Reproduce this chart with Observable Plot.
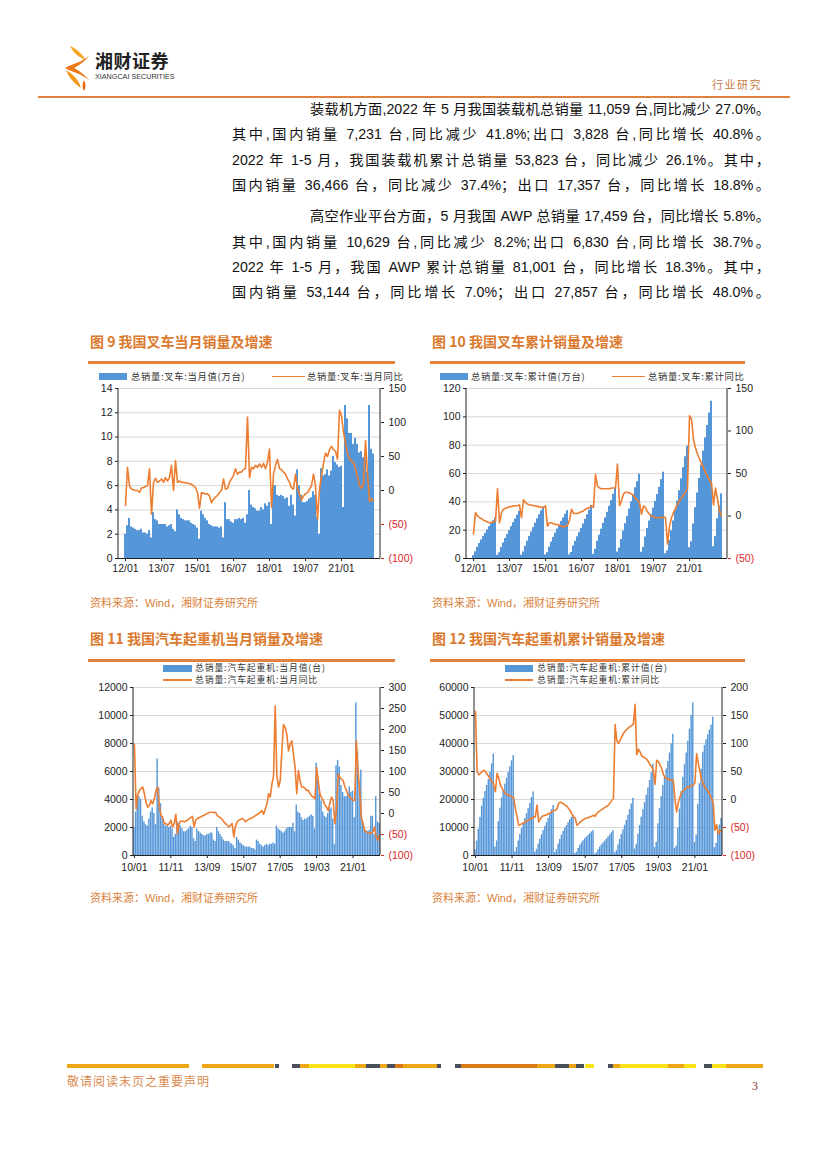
<!DOCTYPE html>
<html><head><meta charset="utf-8">
<script src="https://cdn.jsdelivr.net/npm/d3@7"></script>
<script src="https://cdn.jsdelivr.net/npm/@observablehq/plot@0.6"></script>
<style>
body{margin:0;background:#fff;}
#page{position:relative;width:827px;height:1169px;overflow:hidden;background:#fff;font-family:"Liberation Sans","Noto Sans CJK SC",sans-serif;color:#111;}
.abs{position:absolute;white-space:nowrap;}
.bl{position:absolute;font-size:14.2px;line-height:18px;height:18px;text-align:justify;text-align-last:justify;white-space:nowrap;color:#111;}
.title{position:absolute;font-family:"Noto Sans CJK SC",sans-serif;font-weight:700;font-size:14px;color:#DB7A2E;line-height:18px;white-space:nowrap;}
.rule{position:absolute;height:2.5px;background:#E4823A;}
.src{position:absolute;font-size:11px;color:#D9823A;line-height:14px;white-space:nowrap;font-family:"Liberation Sans","Noto Sans CJK SC",sans-serif;}
.leg{position:absolute;font-family:"Noto Sans CJK SC",sans-serif;font-size:9.3px;letter-spacing:0.7px;color:#333;line-height:11px;white-space:nowrap;}
.leg2{position:absolute;font-family:"Noto Sans CJK SC",sans-serif;font-size:8.8px;letter-spacing:0.9px;color:#333;line-height:10px;height:10px;white-space:nowrap;}
.sw{position:absolute;height:7px;background:#5596d8;}
.ln{position:absolute;height:1.8px;background:#ED7D31;}
.chart{position:absolute;}
</style></head>
<body><div id="page"></div>
<script>
// ---------- categories ----------
function monthSeq(y0, m0, n){const out=[];let y=y0,m=m0;for(let i=0;i<n;i++){out.push(`${y}-${String(m).padStart(2,"0")}`);m++;if(m>12){m=1;y++;}}return out;}
const forkliftMonths = monthSeq(2012, 1, 125);   // 2012/01 - 2022/05
const craneMonths = monthSeq(2010, 1, 149);      // 2010/01 - 2022/05

// ---------- 图9 叉车当月 ----------
const forkliftMonthly = [
2.0,2.7,3.3,2.6,2.5,2.4,2.3,2.3,2.4,2.1,2.1,2.0,
2.3,1.7,3.8,3.2,3.1,2.8,2.8,2.8,2.8,2.6,2.7,2.8,
2.4,2.2,4.0,3.6,3.3,3.2,3.1,3.1,3.1,2.9,2.8,2.7,
2.5,1.6,3.9,3.6,3.3,3.1,2.8,2.7,2.6,2.6,2.6,2.5,
2.6,1.7,4.6,3.2,3.2,3.0,2.9,3.2,3.2,3.3,3.2,3.3,
2.9,3.6,5.6,4.4,4.2,4.1,3.9,3.9,4.2,4.0,4.5,4.3,
4.6,2.8,6.0,6.0,5.2,5.1,5.2,5.1,4.9,5.0,4.3,5.2,
4.4,3.5,7.3,6.0,5.2,4.6,4.6,4.7,4.9,5.0,5.5,5.2,
3.4,2.0,7.4,6.8,6.9,7.3,6.8,7.2,8.4,7.9,7.7,7.5,
7.6,4.2,12.6,11.5,10.3,10.3,9.4,9.9,9.4,8.7,8.8,8.3,
8.3,7.1,12.6,9.0,8.6];
const forkliftMonthlyYoY = [
-22,34,7,2,1,0,0,-3,4,4,6,7,
32,-35,12,18,12,14,17,12,19,14,19,37,
0,44,12,14,12,12,11,11,10,9,7,4,
-3,-26,-3,-4,-5,-5,-8,-18,-13,-10,-7,-3,
0,17,2,3,12,17,22,32,24,27,27,31,
32,108,19,34,32,37,34,39,34,40,32,42,
61,-25,24,37,46,32,31,27,24,17,12,4,
2,24,2,-5,-14,-8,-5,-3,2,7,24,7,
-42,2,22,40,55,50,60,65,60,58,46,118,
110,85,70,55,47,43,41,32,20,8,3,10,
73,25,-16,-12,-15];

// ---------- 图10 叉车累计 ----------
const forkliftCum = [
2.0,4.7,8.0,10.6,13.1,15.5,17.8,20.1,22.5,24.6,26.7,28.7,
2.3,4.0,7.8,11.0,14.1,16.9,19.7,22.5,25.3,27.9,30.6,33.4,
2.4,4.6,8.6,12.2,15.5,18.7,21.8,24.9,28.0,30.9,33.7,36.4,
2.5,4.1,8.0,11.6,14.9,18.0,20.8,23.5,26.1,28.7,31.3,33.8,
2.6,4.3,8.9,12.1,15.3,18.3,21.2,24.4,27.6,30.9,34.1,37.4,
2.9,6.5,12.1,16.5,20.7,24.8,28.7,32.6,36.8,40.8,45.3,49.6,
4.6,7.4,13.4,19.4,24.6,29.7,34.9,40.0,44.9,49.9,54.2,59.4,
4.4,7.9,15.2,21.2,26.4,31.0,35.6,40.3,45.2,50.2,55.7,60.9,
3.4,5.4,12.8,19.6,26.5,33.8,40.6,47.8,56.2,64.1,71.8,79.3,
7.6,11.8,24.4,35.9,46.2,56.5,65.9,75.8,85.2,93.9,102.7,111.0,
8.3,15.4,28.0,37.0,45.6];
const forkliftCumYoY = [
-21,4,0,-2,-3,-5,-6,-7,-8,-8,-7,-6,
32,-8,4,8,9,10,11,11,12,12,12,13,
-2,19,16,14,13,13,12,12,11,11,10,10,
12,-12,-8,-8,-9,-10,-10,-11,-12,-13,-12,-11,
-5,8,3,3,3,4,5,6,8,9,10,12,
10,49,35,33,32,32,32,32,32,33,33,33,
61,12,18,26,28,28,27,26,24,21,18,16,
2,12,10,5,2,0,-1,-2,-2,-2,-2,-1,
-2,-33,-12,-2,4,9,14,18,21,25,28,32,
118,114,90,80,73,67,62,57,51,47,42,39,
13,33,20,6,0];

// ---------- 图11 汽车起重机当月 ----------
const craneMonthly = [
2000,3100,4300,4200,4000,2800,2400,2200,2100,2600,3100,3400,
3000,2200,6900,4800,3700,2700,2200,2100,2100,2000,2100,1900,
1300,1500,2400,2300,2100,1900,1700,1700,1800,1900,2100,2000,
1200,1000,1900,1700,1600,1500,1400,1400,1500,1500,1600,1600,
1100,1000,2000,1700,1500,1300,1100,1000,1000,1000,900,800,
700,500,1300,1100,900,800,700,600,600,600,600,500,
500,400,1100,1000,800,700,600,700,800,700,800,800,
900,800,2100,1900,1800,1700,1600,1700,1900,2000,2000,2000,
2300,1700,3600,3100,3000,2700,2500,2600,2600,2700,2800,2900,
2800,1900,6600,5400,4400,3900,3100,2800,2700,3000,3300,3400,
2600,800,6400,6800,6300,5000,4500,4200,4200,4300,4900,4500,
4600,2700,10900,7400,5200,6100,2400,2000,1800,1700,1800,2800,
2800,1500,4200,2400,2300];
const craneMonthlyYoY = [
165,11,45,55,60,63,47,27,15,19,31,23,
35,55,63,19,-5,-8,-24,-24,-28,-24,-16,-32,
-24,-2,-48,-24,-18,-18,-20,-18,-16,-12,-10,-7,
-32,-16,-12,-10,-8,-6,-4,-2,0,2,3,3,
2,3,-5,-8,-10,-14,-20,-24,-28,-32,-28,-24,
-56,-30,-20,-16,-14,-12,-14,-20,-16,-14,-12,-10,
-8,-5,-3,0,3,7,-2,10,23,47,39,70,
90,256,90,63,78,149,212,205,189,149,165,173,
141,110,47,102,78,63,63,60,55,55,47,42,
39,35,110,78,47,38,31,20,15,7,25,39,
31,-24,7,94,86,82,78,65,55,45,39,35,
31,31,173,102,55,-8,-24,-40,-44,-46,-48,-46,
-44,-32,-56,-64,-52];

// ---------- 图12 汽车起重机累计 ----------
const craneCum = [
2000,5100,9400,13600,17600,20400,22800,25000,27100,29700,32800,36200,
3000,5200,12100,16900,20600,23300,25500,27600,29700,31700,33800,35700,
1300,2800,5200,7500,9600,11500,13200,14900,16700,18600,20700,22700,
1200,2200,4100,5800,7400,8900,10300,11700,13200,14700,16300,17900,
1100,2100,4100,5800,7300,8600,9700,10700,11700,12700,13600,14400,
700,1200,2500,3600,4500,5300,6000,6600,7200,7800,8400,8900,
500,900,2000,3000,3800,4500,5100,5800,6600,7300,8100,8900,
900,1700,3800,5700,7500,9200,10800,12500,14400,16400,18400,20400,
2300,4000,7600,10700,13700,16400,18900,21500,24100,26800,29600,32500,
2800,4700,11300,16700,21100,25000,28100,30900,33600,36600,39900,43300,
2600,3400,9800,16600,22900,27900,32400,36600,40800,45100,50000,54500,
4600,7300,18200,25600,30800,36900,39300,41300,43100,44800,46600,49400,
2800,4300,8500,10900,13200];
const craneCumYoY = [
157,50,44,47,50,52,50,45,41,36,32,26,
14,47,38,26,20,15,11,9,8,6,5,3,
-16,-30,-46,-45,-43,-42,-40,-38,-37,-35,-33,-31,
-31,-10,-40,-35,-30,-29,-28,-27,-25,-24,-22,-20,
-19,-17,-7,-5,-6,-8,-10,-12,-16,-20,-26,-31,
-33,-46,-44,-40,-38,-36,-34,-33,-32,-31,-30,-28,
-30,-25,-22,-20,-18,-16,-14,-12,-10,-6,-2,2,
134,105,100,106,112,118,122,125,128,130,132,135,
170,80,90,85,78,76,74,72,68,62,58,52,
27,70,68,62,55,45,40,37,36,35,35,34,
0,-22,-5,5,12,16,19,21,22,23,24,26,
30,82,65,50,35,28,22,18,15,8,2,-7,
-55,-45,-62,-55,-58];

// ---------- ticks ----------
const leftTicks9 = [0,2,4,6,8,10,12,14];
const rightTicks9 = [-100,-50,0,50,100,150];
const leftTicks10 = [0,20,40,60,80,100,120];
const rightTicks10 = [-50,0,50,100,150];
const leftTicks11 = [0,2000,4000,6000,8000,10000,12000];
const rightTicks11 = [-100,-50,0,50,100,150,200,250,300];
const leftTicks12 = [0,10000,20000,30000,40000,50000,60000];
const rightTicks12 = [-100,-50,0,50,100,150,200];
const xTicksForklift = ["2012-01","2013-07","2015-01","2016-07","2018-01","2019-07","2021-01"];
const xTicksCrane = ["2010-01","2011-11","2013-09","2015-07","2017-05","2019-03","2021-01"];

// ---------- texts ----------
const para1 = [
 "装载机方面,2022 年 5 月我国装载机总销量 11,059 台,同比减少 27.0%。",
 "其中,国内销量 7,231 台,同比减少 41.8%;出口 3,828 台,同比增长 40.8%。",
 "2022 年 1-5 月，我国装载机累计总销量 53,823 台，同比减少 26.1%。其中，",
 "国内销量 36,466 台，同比减少 37.4%；出口 17,357 台，同比增长 18.8%。"];
const para2 = [
 "高空作业平台方面，5 月我国 AWP 总销量 17,459 台，同比增长 5.8%。",
 "其中,国内销量 10,629 台,同比减少 8.2%;出口 6,830 台,同比增长 38.7%。",
 "2022 年 1-5 月，我国 AWP 累计总销量 81,001 台，同比增长 18.3%。其中，",
 "国内销量 53,144 台，同比增长 7.0%；出口 27,857 台，同比增长 48.0%。"];

const page = document.getElementById("page");
function add(html){page.insertAdjacentHTML("beforeend", html);}

// header
add(`<svg class="abs" style="left:62px;top:44px" width="32" height="48" viewBox="0 0 32 48">
<path d="M8 2 C14 4 20 10 24 16 C18 14 12 10 8 2 Z" fill="#F6A623"/>
<path d="M27 12 C20 18 10 20 3 24 C10 28 20 30 27 36 C22 30 16 26 12 24 C16 22 22 18 27 12 Z" fill="#EE7A1A"/>
<path d="M4 26 C10 30 16 34 19 44 C13 40 7 34 4 26 Z" fill="#F39A1E"/>
<path d="M22 36 C24 40 24 44 22 47 C20 44 20 40 22 36 Z" fill="#E06A10"/>
</svg>`);
add(`<div class="abs" style="left:95px;top:49px;font-family:'Noto Sans CJK SC';font-weight:700;font-size:18px;line-height:22px;color:#222;letter-spacing:0.5px">湘财证券</div>`);
add(`<div class="abs" style="left:95px;top:72px;font-family:'Liberation Sans Narrow','Liberation Sans';font-size:8px;line-height:9px;color:#333;transform:scaleX(0.9);transform-origin:left">XIANGCAI SECURITIES</div>`);
add(`<div class="abs" style="left:712px;top:77px;font-family:'Noto Sans CJK SC';font-size:11px;line-height:14px;color:#C77A45;letter-spacing:1.5px">行业研究</div>`);
add(`<div class="abs" style="left:38px;top:96px;width:752px;height:2px;background:#E0823F"></div>`);

// body text
const lineYs1 = [109,134,160,185], lineYs2 = [216,242,267,292];
para1.forEach((t,i)=>{const l=i===0?310:232; add(`<div class="bl" style="left:${l}px;top:${lineYs1[i]-9}px;width:${770-l}px">${t}</div>`);});
para2.forEach((t,i)=>{const l=i===0?310:232; add(`<div class="bl" style="left:${l}px;top:${lineYs2[i]-9}px;width:${770-l}px">${t}</div>`);});

// titles, rules, sources
add(`<div class="title" style="left:90px;top:332px">图 9 我国叉车当月销量及增速</div>`);
add(`<div class="title" style="left:432px;top:332px">图 10 我国叉车累计销量及增速</div>`);
add(`<div class="title" style="left:90px;top:629px">图 11 我国汽车起重机当月销量及增速</div>`);
add(`<div class="title" style="left:432px;top:629px">图 12 我国汽车起重机累计销量及增速</div>`);
add(`<div class="rule" style="left:88px;top:361px;width:307px"></div>`);
add(`<div class="rule" style="left:430px;top:361px;width:315px"></div>`);
add(`<div class="rule" style="left:88px;top:659px;width:307px"></div>`);
add(`<div class="rule" style="left:430px;top:659px;width:315px"></div>`);
["90px;top:596px","432px;top:596px","90px;top:891px","432px;top:891px"].forEach(p=>add(`<div class="src" style="left:${p}">资料来源：Wind，湘财证券研究所</div>`));

// legends
add(`<div class="sw" style="left:99px;top:373px;width:28px"></div><div class="leg" style="left:131px;top:371px">总销量:叉车:当月值(万台)</div>`);
add(`<div class="ln" style="left:272px;top:375.5px;width:33px"></div><div class="leg" style="left:307px;top:371px">总销量:叉车:当月同比</div>`);
add(`<div class="sw" style="left:440px;top:373px;width:28px"></div><div class="leg" style="left:471px;top:371px">总销量:叉车:累计值(万台)</div>`);
add(`<div class="ln" style="left:612px;top:375.5px;width:33px"></div><div class="leg" style="left:648px;top:371px">总销量:叉车:累计同比</div>`);
add(`<div class="sw" style="left:163px;top:664.5px;width:29px"></div><div class="leg2" style="left:195px;top:662.5px">总销量:汽车起重机:当月值(台)</div>`);
add(`<div class="ln" style="left:163px;top:679px;width:29px"></div><div class="leg2" style="left:195px;top:674.5px">总销量:汽车起重机:当月同比</div>`);
add(`<div class="sw" style="left:505px;top:664.5px;width:28px"></div><div class="leg2" style="left:537px;top:662.5px">总销量:汽车起重机:累计值(台)</div>`);
add(`<div class="ln" style="left:505px;top:679px;width:28px"></div><div class="leg2" style="left:537px;top:674.5px">总销量:汽车起重机:累计同比</div>`);

// footer
const footSegs = [[67,189,"#EFA614"],[202,274,"#EFA614"],[275,279,"#4A4F5A"],[292,300,"#4A4F5A"],[300,309,"#EFA614"],[309,355,"#F7E317"],[355,366,"#EFA614"],[366,380,"#4A4F5A"],[380,387,"#EFA614"],[387,395,"#4A4F5A"],[395,403,"#D9791A"],[403,437,"#EFA614"],[437,441,"#4A4F5A"],[455,461,"#4A4F5A"],[461,537,"#D9791A"],[537,555,"#EFA614"],[555,569,"#4A4F5A"],[569,576,"#EFA614"],[576,584,"#4A4F5A"],[585,594,"#F7E317"],[608,613,"#4A4F5A"],[613,620,"#EFA614"],[620,668,"#F7E317"],[668,684,"#EFA614"],[684,696,"#F7E317"],[704,712,"#4A4F5A"],[712,726,"#F7E317"],[726,763,"#EFA614"]];
footSegs.forEach(([a,b,c])=>add(`<div class="abs" style="left:${a}px;top:1064px;width:${b-a}px;height:4px;background:${c}"></div>`));
add(`<div class="abs" style="left:67px;top:1073px;font-family:'Noto Sans CJK SC';font-size:12px;line-height:15px;color:#D98A4E;letter-spacing:1px">敬请阅读末页之重要声明</div>`);
add(`<div class="abs" style="left:752px;top:1079px;font-family:'Liberation Serif';font-size:12px;line-height:14px;color:#8a3030">3</div>`);

// ---------- chart builder ----------
function dualChart(o){
  const {left, top, width, height, ml, mr, mt, mb, months, bars, line, yDom, yTicks, rDom, rTicks, xTicks, padding, xPad} = o;
  const mapR = r => yDom[0] + (r - rDom[0]) / (rDom[1] - rDom[0]) * (yDom[1] - yDom[0]);
  const invR = v => Math.round(rDom[0] + (v - yDom[0]) / (yDom[1] - yDom[0]) * (rDom[1] - rDom[0]));
  const fmtR = v => { const r = invR(v); return r < 0 ? `(${-r})` : `${r}`; };
  const data = months.map((m,i)=>({m, v: bars[i], r: line[i]}));
  const chart = Plot.plot({
    width, height, marginLeft: ml, marginRight: mr, marginTop: mt, marginBottom: mb,
    style: {fontFamily: "Liberation Sans, Arial, sans-serif", fontSize: "10.5px", color: "#222", background: "transparent", overflow: "visible"},
    x: {type: "band", domain: months, padding, axis: null},
    y: {domain: yDom, axis: null},
    marks: [
      Plot.gridY(yTicks.filter(t => t > yDom[0]), {stroke: "#d9d9d9", strokeOpacity: 1}),
      Plot.barY(data, {x: "m", y: "v", fill: "#5596d8"}),
      Plot.line(data, {x: "m", y: d => mapR(d.r), stroke: "#ED7D31", strokeWidth: 1.6}),
      Plot.ruleY([yDom[0]], {stroke: "#222"}),
      Plot.axisY(yTicks, {anchor: "left", label: null, tickSize: 3, tickPadding: 3, tickFormat: d => String(d), color: "#222"}),
      Plot.axisY(rTicks.filter(t => t >= 0).map(mapR), {anchor: "right", label: null, tickSize: 3, tickPadding: 5, tickFormat: fmtR, color: "#222"}),
      Plot.axisY(rTicks.filter(t => t < 0).map(mapR), {anchor: "right", label: null, tickSize: 3, tickPadding: 5, tickFormat: fmtR, color: "#d9262b"}),
      Plot.axisX(xTicks, {label: null, tickSize: 3, tickPadding: xPad, tickFormat: m => m.slice(2,4) + "/" + m.slice(5,7), color: "#222"})
    ]
  });
  const sx = chart.scale("x").range, sy = chart.scale("y").range;
  const svg = d3.select(chart);
  [sx[0], sx[1]].forEach(x => svg.append("line").attr("x1", x).attr("x2", x).attr("y1", Math.min(...sy)).attr("y2", Math.max(...sy)).attr("stroke", "#222").attr("stroke-width", 1));
  chart.classList.add("chart");
  chart.style.left = left + "px"; chart.style.top = top + "px"; chart.style.position = "absolute";
  page.appendChild(chart);
}

dualChart({left:85, top:381, width:330, height:199, ml:33, mr:35, mt:7, mb:22,
  months: forkliftMonths, bars: forkliftMonthly, line: forkliftMonthlyYoY,
  yDom:[0,14], yTicks: leftTicks9, rDom:[-100,150], rTicks: rightTicks9, xTicks: xTicksForklift, padding: 0.25, xPad: 3});
dualChart({left:425, top:381, width:335, height:199, ml:41, mr:33, mt:7, mb:22,
  months: forkliftMonths, bars: forkliftCum, line: forkliftCumYoY,
  yDom:[0,120], yTicks: leftTicks10, rDom:[-50,150], rTicks: rightTicks10, xTicks: xTicksForklift, padding: 0.25, xPad: 3});
dualChart({left:85, top:680, width:330, height:198, ml:48, mr:35, mt:7, mb:23,
  months: craneMonths, bars: craneMonthly, line: craneMonthlyYoY,
  yDom:[0,12000], yTicks: leftTicks11, rDom:[-100,300], rTicks: rightTicks11, xTicks: xTicksCrane, padding: 0.15, xPad: 5});
dualChart({left:425, top:680, width:335, height:198, ml:49, mr:38, mt:7, mb:23,
  months: craneMonths, bars: craneCum, line: craneCumYoY,
  yDom:[0,60000], yTicks: leftTicks12, rDom:[-100,200], rTicks: rightTicks12, xTicks: xTicksCrane, padding: 0.15, xPad: 5});
</script>
</body></html>
